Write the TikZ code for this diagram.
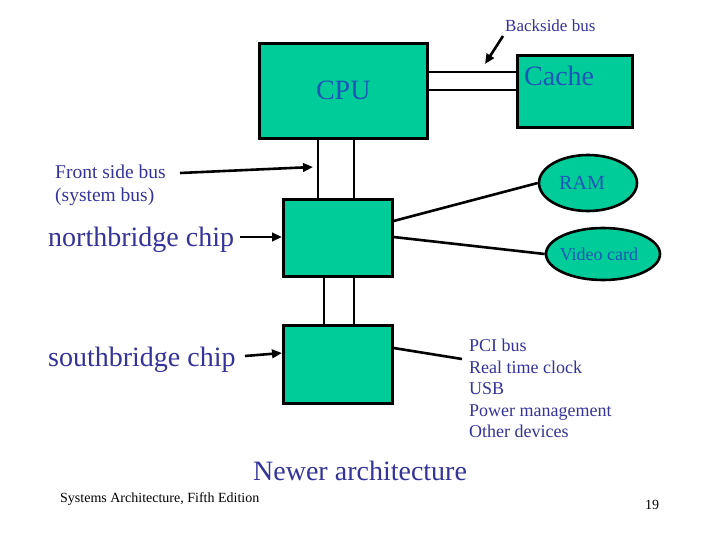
\documentclass[tikz,border=0pt]{standalone}
\usepackage{fontspec}
\setmainfont{Liberation Serif}
\usetikzlibrary{arrows.meta,shapes.geometric}
\definecolor{chipgreen}{RGB}{0,204,153}
\definecolor{labelblue}{RGB}{51,51,153}
\definecolor{nodeblue}{RGB}{30,85,185}
\begin{document}
\begin{tikzpicture}[x=1pt,y=-1pt,
  chip/.style={draw=black, line width=2.6pt, fill=chipgreen, rectangle, inner sep=0pt, anchor=north west},
  oval/.style={draw=black, line width=2.6pt, fill=chipgreen, ellipse, inner sep=0pt, text=nodeblue},
  bus/.style={line width=2.6pt},
  pointer/.style={line width=2.6pt, -{Triangle[length=10pt,width=8.5pt]}},
  lbl/.style={text=labelblue, inner sep=0pt, anchor=base west},
  small/.style={font=\fontsize{18}{21.5}\selectfont},
  big/.style={font=\fontsize{28}{32}\selectfont},
]
\useasboundingbox (0,0) rectangle (720,540);

% boxes
\node[chip, minimum width=168pt, minimum height=95pt, text=nodeblue, big] (cpu) at (258,42) {CPU};
\node[chip, minimum width=115pt, minimum height=72pt] (cache) at (516,54) {};
\node[text=nodeblue, big, inner sep=0pt, anchor=base west] (cachetext) at (524,86) {Cache};
\node[chip, minimum width=109pt, minimum height=77pt] (nb) at (282,198) {};
\node[chip, minimum width=109pt, minimum height=78pt] (sb) at (282,324) {};
\node[oval, minimum width=98pt, minimum height=56pt, font=\fontsize{20}{23}\selectfont, text depth=0pt] (ram) at (588,183) {\hspace*{-12pt}RAM};
\node[oval, minimum width=114pt, minimum height=52pt, font=\fontsize{18}{21}\selectfont] (video) at (603,254) {\hspace*{-8pt}Video card};

% buses
\draw[bus] (cpu.east |- 0,72) -- (cache.west |- 0,72);
\draw[bus] (cpu.east |- 0,90) -- (cache.west |- 0,90);
\draw[bus] (cpu.south -| 318,0) -- (nb.north -| 318,0);
\draw[bus] (cpu.south -| 354,0) -- (nb.north -| 354,0);
\draw[bus] (nb.south -| 324,0) -- (sb.north -| 324,0);
\draw[bus] (nb.south -| 354,0) -- (sb.north -| 354,0);
\draw[bus] (nb.east |- 0,221) -- (ram.west);
\draw[bus] (nb.east |- 0,237) -- (video.west);
\coordinate (listend) at (462,359);
\draw[bus] (sb.east |- 0,348) -- (listend);

% labels
\node[lbl, font=\fontsize{17}{20}\selectfont] (backside) at (505,32) {Backside bus};
\coordinate (bsstart) at (503,36);
\coordinate (bstip) at (485,64);
\draw[pointer] (bsstart) -- (bstip);

\node[text=labelblue, inner sep=0pt, anchor=north west, align=left, font=\fontsize{19.5}{23}\selectfont] (fsb) at (55,165) {Front side bus\\(system bus)};
\coordinate (fsbstart) at (180,173);
\coordinate (fsbtip) at (313,167);
\draw[pointer] (fsbstart) -- (fsbtip);

\node[lbl, big] (nblabel) at (48,246) {northbridge chip};
\coordinate (nbstart) at (240,237);
\draw[pointer] (nbstart) -- (nb.west |- nbstart);

\node[lbl, big] (sblabel) at (48,366) {southbridge chip};
\coordinate (sbstart) at (245,356);
\draw[pointer] (sbstart) -- (nb.west |- 0,353);

\node[text=labelblue, inner sep=0pt, anchor=north west, align=left, small] (list) at (469,339)
  {PCI bus\\Real time clock\\USB\\Power management\\Other devices};

\node[lbl, big] (title) at (253,480) {Newer architecture};
\node[inner sep=0pt, anchor=base west, font=\fontsize{14}{16}\selectfont] (footer) at (60,502) {Systems Architecture, Fifth Edition};
\node[inner sep=0pt, anchor=base west, font=\fontsize{14}{16}\selectfont] (page) at (645,509) {19};
\end{tikzpicture}
\end{document}
